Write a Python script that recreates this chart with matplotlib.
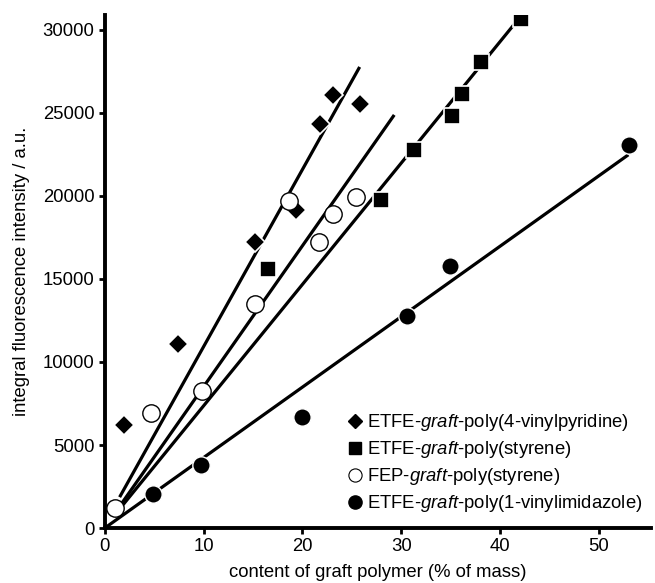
import matplotlib
matplotlib.use("Agg")
import matplotlib.pyplot as plt
import numpy as np

plt.rcParams['font.family'] = ['Liberation Sans', 'DejaVu Sans']
plt.rcParams['mathtext.fontset'] = 'custom'
plt.rcParams['mathtext.rm'] = 'Liberation Sans'
plt.rcParams['mathtext.it'] = 'Liberation Sans:italic'

# ETFE-graft-poly(4-vinylpyridine)
vp_x = [1.9, 7.4, 15.2, 19.4, 21.8, 23.1, 25.8]
vp_y = [6190, 11100, 17250, 19170, 24340, 26080, 25540]
vp_line_x = [1.5, 25.8]
vp_line_y = [1860, 27770]

# ETFE-graft-poly(styrene)
st_x = [16.5, 28.0, 31.3, 35.1, 36.2, 38.1, 42.1]
st_y = [15620, 19780, 22780, 24820, 26140, 28070, 30650]
st_line_x = [1.6, 41.8]
st_line_y = [1220, 30600]

# FEP-graft-poly(styrene)
fep_x = [1.0, 4.7, 9.8, 15.2, 18.6, 21.7, 23.1, 25.4]
fep_y = [1200, 6900, 8230, 13520, 19710, 17250, 18930, 19950]
fep_line_x = [1.6, 29.3]
fep_line_y = [1390, 24880]

# ETFE-graft-poly(1-vinylimidazole)
vi_x = [4.9, 9.7, 20.0, 30.6, 34.9, 53.1]
vi_y = [2040, 3790, 6670, 12800, 15800, 23080]
vi_line_x = [0.0, 53.0]
vi_line_y = [0, 22480]

labels = ["ETFE-$\\it{graft}$-poly(4-vinylpyridine)",
          "ETFE-$\\it{graft}$-poly(styrene)",
          "FEP-$\\it{graft}$-poly(styrene)",
          "ETFE-$\\it{graft}$-poly(1-vinylimidazole)"]

xticks = [0, 10, 20, 30, 40, 50]
yticks = [0, 5000, 10000, 15000, 20000, 25000, 30000]

fs = 13.3
fig = plt.figure(figsize=(6.55, 5.83), dpi=100)
ax = fig.add_axes([0.160, 0.0943, 0.834, 0.880])

lw = 2.3
for lx, ly in [(vp_line_x, vp_line_y), (st_line_x, st_line_y),
               (fep_line_x, fep_line_y), (vi_line_x, vi_line_y)]:
    ax.plot(lx, ly, color='black', lw=lw, solid_capstyle='butt', zorder=2)

ax.plot(vp_x, vp_y, linestyle='none', marker='D', ms=10.5, mfc='black',
        mec='white', mew=1.2, zorder=3)
ax.plot(st_x, st_y, linestyle='none', marker='s', ms=11, mfc='black',
        mec='white', mew=1.2, zorder=3)
ax.plot(fep_x, fep_y, linestyle='none', marker='o', ms=12.5, mfc='white',
        mec='black', mew=1.0, zorder=3)
ax.plot(vi_x, vi_y, linestyle='none', marker='o', ms=12.5, mfc='black',
        mec='white', mew=1.0, zorder=3)

# legend handles
h1 = ax.plot([], [], linestyle='none', marker='D', ms=7.5, mfc='black', mec='black')[0]
h2 = ax.plot([], [], linestyle='none', marker='s', ms=9, mfc='black', mec='black')[0]
h3 = ax.plot([], [], linestyle='none', marker='o', ms=9.5, mfc='white', mec='black', mew=0.8)[0]
h4 = ax.plot([], [], linestyle='none', marker='o', ms=9.5, mfc='black', mec='black')[0]
leg = ax.legend([h1, h2, h3, h4], labels, loc='lower left',
                bbox_to_anchor=(0.435, 0.012), frameon=False, fontsize=fs,
                handlelength=0.6, handletextpad=0.35, labelspacing=0.33,
                borderaxespad=0.0)

ax.set_xlim(0, 55.3)
ax.set_ylim(0, 30900)
ax.set_xticks(xticks)
ax.set_yticks(yticks)
ax.tick_params(direction='out', length=4, width=2, labelsize=fs, pad=3.5)
for s in ['top', 'right']:
    ax.spines[s].set_visible(False)
for s in ['left', 'bottom']:
    ax.spines[s].set_linewidth(2.8)

ax.set_xlabel("content of graft polymer (% of mass)", fontsize=fs, labelpad=6)
ax.set_ylabel("integral fluorescence intensity / a.u.", fontsize=fs, labelpad=9)

fig.savefig("out.png", dpi=100)
